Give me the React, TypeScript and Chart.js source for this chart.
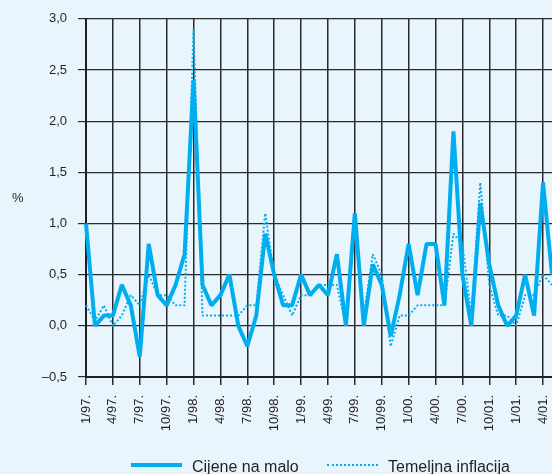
import React, { useEffect, useRef } from "react";
import { Chart, registerables } from "chart.js";

Chart.register(...registerables);

const months = [
  "1/97.", "2/97.", "3/97.", "4/97.", "5/97.", "6/97.", "7/97.", "8/97.", "9/97.", "10/97.", "11/97.", "12/97.",
  "1/98.", "2/98.", "3/98.", "4/98.", "5/98.", "6/98.", "7/98.", "8/98.", "9/98.", "10/98.", "11/98.", "12/98.",
  "1/99.", "2/99.", "3/99.", "4/99.", "5/99.", "6/99.", "7/99.", "8/99.", "9/99.", "10/99.", "11/99.", "12/99.",
  "1/00.", "2/00.", "3/00.", "4/00.", "5/00.", "6/00.", "7/00.", "8/00.", "9/00.", "10/01.", "11/00.", "12/00.",
  "1/01.", "2/01.", "3/01.", "4/01.", "5/01.",
];

const cijeneNaMalo = [
  1.0, 0.0, 0.1, 0.1, 0.4, 0.2, -0.3, 0.8, 0.3, 0.2, 0.4, 0.7,
  2.4, 0.4, 0.2, 0.3, 0.5, 0.0, -0.2, 0.1, 0.9, 0.5, 0.2, 0.2,
  0.5, 0.3, 0.4, 0.3, 0.7, 0.0, 1.1, 0.0, 0.6, 0.4, -0.1, 0.3,
  0.8, 0.3, 0.8, 0.8, 0.2, 1.9, 0.5, 0.0, 1.2, 0.6, 0.2, 0.0,
  0.1, 0.5, 0.1, 1.4, 0.5,
];

const temeljnaInflacija = [
  0.2, 0.05, 0.2, 0.0, 0.1, 0.3, 0.2, 0.5, 0.3, 0.3, 0.2, 0.2,
  2.9, 0.1, 0.1, 0.1, 0.1, 0.1, 0.2, 0.2, 1.1, 0.5, 0.3, 0.1,
  0.3, 0.3, 0.4, 0.4, 0.4, 0.0, 1.0, 0.1, 0.7, 0.5, -0.2, 0.1,
  0.1, 0.2, 0.2, 0.2, 0.2, 0.9, 0.8, 0.1, 1.4, 0.4, 0.1, 0.1,
  0.0, 0.3, 0.3, 0.5, 0.4,
];

const seriesNames = ["Cijene na malo", "Temeljna inflacija"];
const yUnit = "%";

const BLUE = "#00aeef";
const INK = "#231f20";
const GRID = "#2a2a2a";
const FONT = "'Liberation Sans', Arial, Helvetica, sans-serif";

export default function App() {
  const ref = useRef<HTMLCanvasElement | null>(null);

  useEffect(() => {
    if (!ref.current) return;
    const chart = new Chart(ref.current, {
      type: "line",
      data: {
        labels: months,
        datasets: [
          {
            label: seriesNames[0],
            data: cijeneNaMalo,
            borderColor: BLUE,
            backgroundColor: BLUE,
            borderWidth: 4,
            pointRadius: 0,
            tension: 0,
            borderJoinStyle: "bevel",
            fill: false,
          },
          {
            label: seriesNames[1],
            data: temeljnaInflacija,
            borderColor: BLUE,
            backgroundColor: BLUE,
            borderWidth: 2,
            borderDash: [2, 2],
            pointRadius: 0,
            tension: 0,
            borderJoinStyle: "bevel",
            fill: false,
          },
        ],
      },
      options: {
        responsive: false,
        devicePixelRatio: 1,
        animation: false,
        layout: { padding: { left: 0, right: 0, top: 16, bottom: 0 } },
        plugins: {
          legend: { display: false },
          tooltip: { enabled: false },
        },
        scales: {
          x: {
            type: "category",
            offset: false,
            grid: {
              color: (ctx: any) => (ctx.index % 3 === 0 ? GRID : "rgba(0,0,0,0)"),
              lineWidth: 1.5,
              tickLength: 8,
            },
            border: { display: true, color: INK, width: 2 },
            ticks: {
              autoSkip: false,
              maxRotation: 90,
              minRotation: 90,
              padding: 10,
              color: INK,
              font: { family: FONT, size: 13 },
              callback: (_v: any, i: number) => (i % 3 === 0 ? months[i] : ""),
            },
            afterFit: (s: any) => {
              s.height = 97;
              s.paddingRight = 0;
              s.paddingLeft = 0;
            },
          },
          y: {
            min: -0.5,
            max: 3,
            grid: { color: GRID, lineWidth: 1.2, tickLength: 8 },
            border: { display: true, color: INK, width: 2 },
            ticks: {
              stepSize: 0.5,
              padding: 11,
              color: INK,
              font: { family: FONT, size: 13 },
              callback: (v: any) =>
                Number(v).toFixed(1).replace(".", ",").replace("-", "\u2013"),
            },
            afterFit: (s: any) => {
              s.width = 86;
            },
          },
        },
      },
    });
    return () => chart.destroy();
  }, []);

  const textStyle: React.CSSProperties = {
    position: "absolute",
    fontFamily: FONT,
    fontSize: 16,
    lineHeight: "16px",
    color: INK,
    whiteSpace: "nowrap",
  };

  return (
    <div
      style={{
        position: "fixed",
        left: 0,
        top: 0,
        width: 552,
        height: 474,
        overflow: "hidden",
        background: "#e9f5fd",
      }}
    >
      <canvas ref={ref} width={552} height={474} style={{ display: "block", width: 552, height: 474 }} />
      <div
        style={{
          position: "absolute",
          left: 12,
          top: 191,
          fontFamily: FONT,
          fontSize: 13,
          lineHeight: "13px",
          color: INK,
        }}
      >
        {yUnit}
      </div>
      <div style={{ position: "absolute", left: 131, top: 463, width: 51, height: 4, background: BLUE }} />
      <div style={{ ...textStyle, left: 192, top: 459 }}>{seriesNames[0]}</div>
      <div style={{ position: "absolute", left: 327, top: 464, width: 51, height: 0, borderTop: `2px dotted ${BLUE}` }} />
      <div style={{ ...textStyle, left: 388, top: 459 }}>{seriesNames[1]}</div>
    </div>
  );
}
